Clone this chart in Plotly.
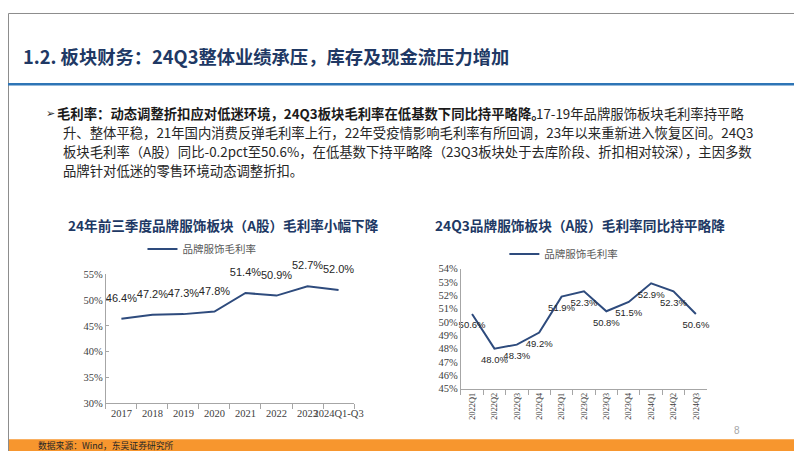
import plotly.graph_objects as go

W, H = 802, 451

# ---------------- data ----------------
years = ["2017", "2018", "2019", "2020", "2021", "2022", "2023", "2024Q1-Q3"]
annual_margin = [46.4, 47.2, 47.3, 47.8, 51.4, 50.9, 52.7, 52.0]

quarters = ["2022Q1", "2022Q2", "2022Q3", "2022Q4", "2023Q1", "2023Q2",
            "2023Q3", "2023Q4", "2024Q1", "2024Q2", "2024Q3"]
quarterly_margin = [50.6, 48.0, 48.3, 49.2, 51.9, 52.3, 50.8, 51.5, 52.9, 52.3, 50.6]

left_yticks = [30, 35, 40, 45, 50, 55]
right_yticks = [45, 46, 47, 48, 49, 50, 51, 52, 53, 54]
series_name = "品牌服饰毛利率"

main_title = "1.2. 板块财务：24Q3整体业绩承压，库存及现金流压力增加"
left_title = "24年前三季度品牌服饰板块（A股）毛利率小幅下降"
right_title = "24Q3品牌服饰板块（A股）毛利率同比持平略降"
bullet_bold = "毛利率：动态调整折扣应对低迷环境，24Q3板块毛利率在低基数下同比持平略降。"
bullet_lines = [
    "17-19年品牌服饰板块毛利率持平略",
    "升、整体平稳，21年国内消费反弹毛利率上行，22年受疫情影响毛利率有所回调，23年以来重新进入恢复区间。24Q3",
    "板块毛利率（A股）同比-0.2pct至50.6%，在低基数下持平略降（23Q3板块处于去库阶段、折扣相对较深），主因多数",
    "品牌针对低迷的零售环境动态调整折扣。",
]
source_text = "数据来源：Wind，东吴证券研究所"


def px(x):
    return x / W


def py(y):
    return 1 - y / H


LINE_COLOR = "#2E4B7D"
AXIS_COLOR = "#A6A6A6"
CJK = "Noto Sans CJK SC"
SERIF = "Liberation Serif, Times New Roman, serif"
SANS = "Liberation Sans, Arial, sans-serif"

fig = go.Figure()

# left chart: line + labels
fig.add_trace(go.Scatter(
    x=years, y=annual_margin, mode="lines", name=series_name,
    line=dict(color=LINE_COLOR, width=2),
    xaxis="x", yaxis="y", legend="legend", showlegend=True, hoverinfo="skip",
))
fig.add_trace(go.Scatter(
    x=years, y=annual_margin, mode="markers+text", name=series_name,
    marker=dict(size=21, color="rgba(0,0,0,0)"),
    texttemplate="%{y:.1f}%", textposition="top center",
    textfont=dict(family=SANS, size=11, color="#262626"),
    xaxis="x", yaxis="y", showlegend=False, cliponaxis=False, hoverinfo="skip",
))

# right chart: line + labels
fig.add_trace(go.Scatter(
    x=quarters, y=quarterly_margin, mode="lines", name=series_name,
    line=dict(color=LINE_COLOR, width=2),
    xaxis="x2", yaxis="y2", legend="legend2", showlegend=True, hoverinfo="skip",
))
fig.add_trace(go.Scatter(
    x=quarters, y=quarterly_margin, mode="markers+text", name=series_name,
    marker=dict(size=10, color="rgba(0,0,0,0)"),
    texttemplate="%{y:.1f}%", textposition="bottom center",
    textfont=dict(family=SANS, size=9.5, color="#262626"),
    xaxis="x2", yaxis="y2", showlegend=False, cliponaxis=False, hoverinfo="skip",
))

axis_common = dict(showgrid=False, zeroline=False, showline=True,
                   linecolor=AXIS_COLOR, linewidth=1, fixedrange=True)

fig.update_layout(
    width=W, height=H,
    margin=dict(l=0, r=0, t=0, b=0),
    paper_bgcolor="white", plot_bgcolor="white",
    showlegend=True,
    xaxis=dict(domain=[px(99), px(350)], anchor="y", type="category",
               range=[-0.5, len(years) - 0.5], ticks="outside",
               tickson="boundaries", ticklen=5, tickcolor=AXIS_COLOR,
               tickangle=0, tickfont=dict(family=SERIF, size=10.5, color="#404040"),
               **axis_common),
    yaxis=dict(domain=[py(400), py(268)], anchor="x", range=[30, 55],
               tickvals=left_yticks, ticktext=[f"{v}%" for v in left_yticks],
               ticks="inside", ticklen=3, tickcolor=AXIS_COLOR,
               tickfont=dict(family=SERIF, size=10.5, color="#404040"),
               **axis_common),
    xaxis2=dict(domain=[px(458), px(707)], anchor="y2", type="category",
                range=[-0.5, len(quarters) - 0.5], ticks="outside",
                tickson="boundaries", ticklen=5, tickcolor=AXIS_COLOR,
                tickangle=-90, tickfont=dict(family=SERIF, size=8.3, color="#404040"),
                **axis_common),
    yaxis2=dict(domain=[py(385), py(262)], anchor="x2", range=[45, 54],
                tickvals=right_yticks, ticktext=[f"{v}%" for v in right_yticks],
                ticks="", tickfont=dict(family=SERIF, size=10.5, color="#404040"),
                **axis_common),
    legend=dict(x=px(136), y=py(242), xanchor="left", yanchor="middle",
                font=dict(family=CJK, size=10.5, color="#595959"),
                bgcolor="rgba(0,0,0,0)", itemwidth=30),
    legend2=dict(x=px(502), y=py(247), xanchor="left", yanchor="middle",
                 font=dict(family=CJK, size=10.5, color="#595959"),
                 bgcolor="rgba(0,0,0,0)", itemwidth=30),
)

shapes = [
    # slide border
    dict(type="rect", xref="paper", yref="paper", x0=px(0.5), x1=px(801.5),
         y0=py(450.5), y1=py(0.5), line=dict(color="#8C8C8C", width=1)),
    # blue rule under title
    dict(type="line", xref="paper", yref="paper", x0=0, x1=1,
         y0=py(73), y1=py(73), line=dict(color="#2E75B6", width=2.5)),
    # orange footer bar
    dict(type="rect", xref="paper", yref="paper", x0=0, x1=1,
         y0=0, y1=py(437), fillcolor="#F7962E", line=dict(width=0), layer="below"),
]
fig.update_layout(shapes=shapes)

BODY = 13.35
annotations = [
    dict(text=main_title, x=px(261), y=py(44), xanchor="center", yanchor="middle",
         font=dict(family=CJK, size=18.3, color="#203864", weight="bold")),
    dict(text="➢", x=px(36), y=py(103), xanchor="left", yanchor="middle",
         font=dict(family="DejaVu Sans", size=11, color="#262626")),
    dict(text=left_title, x=px(218), y=py(217), xanchor="center", yanchor="middle",
         font=dict(family=CJK, size=13.6, color="#203864", weight="bold")),
    dict(text=right_title, x=px(578), y=py(217), xanchor="center", yanchor="middle",
         font=dict(family=CJK, size=13.7, color="#203864", weight="bold")),
    dict(text=source_text, x=px(28), y=py(443.5), xanchor="left", yanchor="middle",
         font=dict(family=CJK, size=8.8, color="#262626")),
    dict(text="8", x=px(737), y=py(428), xanchor="center", yanchor="middle",
         font=dict(family=SANS, size=10, color="#A6A6A6")),
    dict(text=bullet_bold, x=px(296), y=py(103), xanchor="center", yanchor="middle",
         font=dict(family=CJK, size=BODY, color="#1A1A1A", weight="bold")),
    dict(text=bullet_lines[0], x=px(746), y=py(103), xanchor="right", yanchor="middle",
         font=dict(family=CJK, size=BODY, color="#262626")),
]
for i, line in enumerate(bullet_lines[1:], start=1):
    annotations.append(dict(text=line, x=px(54), y=py(103 + 19.5 * i), xanchor="left",
                            yanchor="middle", align="left",
                            font=dict(family=CJK, size=BODY, color="#262626")))
for a in annotations:
    a.update(xref="paper", yref="paper", showarrow=False)
fig.update_layout(annotations=annotations)

fig.write_html("out.html")
